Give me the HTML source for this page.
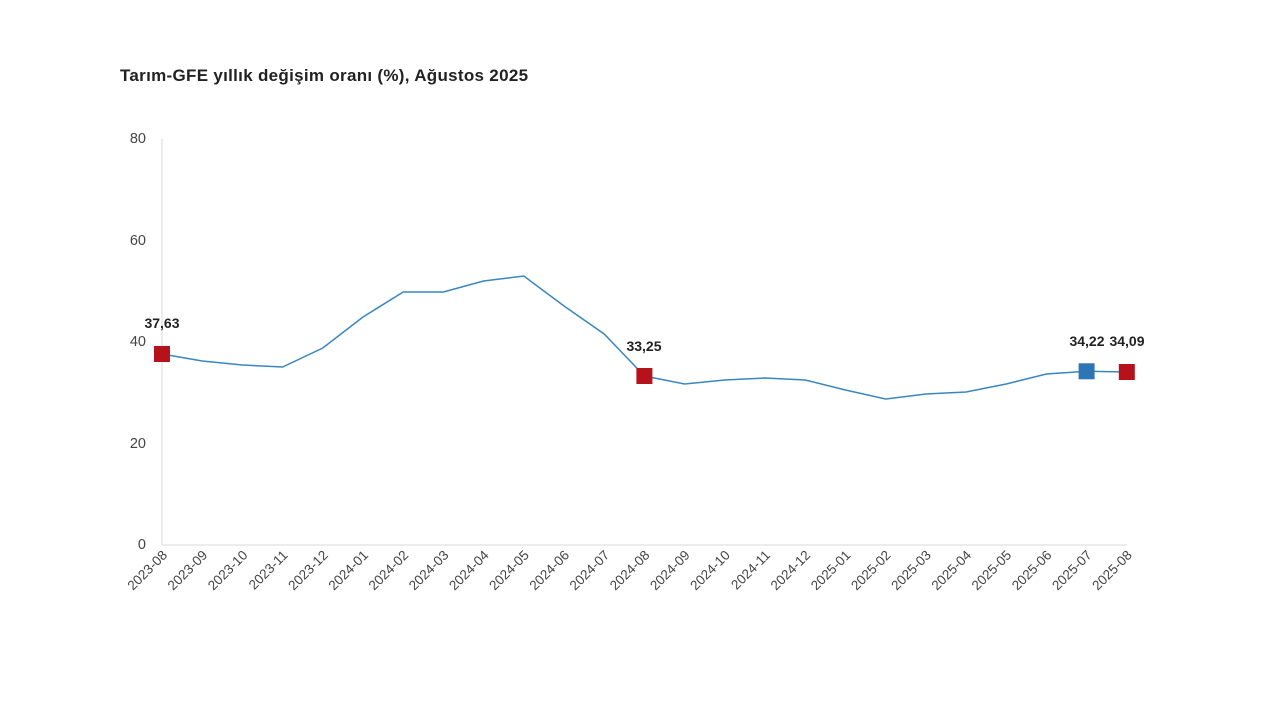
<!DOCTYPE html>
<html><head><meta charset="utf-8"><style>
html,body{margin:0;padding:0;background:#fff;}
svg{display:block;font-family:"Liberation Sans","DejaVu Sans",sans-serif;}
</style></head><body>
<svg width="1280" height="720" viewBox="0 0 1280 720" xmlns="http://www.w3.org/2000/svg">
<rect width="1280" height="720" fill="#fff"/>
<text x="120" y="81" font-size="17" font-weight="bold" fill="#222" letter-spacing="0.3">Tarım-GFE yıllık değişim oranı (%), Ağustos 2025</text>
<g font-size="14.5" fill="#444" text-anchor="end">
<text x="146" y="549">0</text>
<text x="146" y="448">20</text>
<text x="146" y="346">40</text>
<text x="146" y="245">60</text>
<text x="146" y="143">80</text>
</g>
<line x1="162" y1="139" x2="162" y2="545" stroke="#d9d9d9" stroke-width="1"/>
<line x1="162" y1="545" x2="1127" y2="545" stroke="#d9d9d9" stroke-width="1"/>
<polyline fill="none" stroke="#3a86c0" stroke-width="1.5" points="162,354 202.2,361 242.4,365 282.6,367 322.8,348 363,317 403.2,292 443.4,292 483.6,281 523.8,276 564,306 604.2,334 644.4,376 684.6,384 724.8,380 765,378 805.2,380 845.4,390 885.6,399 925.8,394 966,392 1006.2,384 1046.4,374 1086.6,371.3 1126.8,372"/>
<rect x="154" y="346" width="16" height="16" fill="#b5121b"/>
<rect x="636.4" y="368" width="16" height="16" fill="#b5121b"/>
<rect x="1078.6" y="363.3" width="16" height="16" fill="#2e75b6"/>
<rect x="1118.8" y="364" width="16" height="16" fill="#b5121b"/>
<g font-size="14" font-weight="bold" fill="#222" text-anchor="middle">
<text x="162" y="328">37,63</text>
<text x="644" y="351">33,25</text>
<text x="1087" y="346">34,22</text>
<text x="1127" y="346">34,09</text>
</g>
<g font-size="13.5" fill="#444" text-anchor="end">
<text transform="translate(168,556) rotate(-45)">2023-08</text>
<text transform="translate(208.2,556) rotate(-45)">2023-09</text>
<text transform="translate(248.4,556) rotate(-45)">2023-10</text>
<text transform="translate(288.6,556) rotate(-45)">2023-11</text>
<text transform="translate(328.8,556) rotate(-45)">2023-12</text>
<text transform="translate(369,556) rotate(-45)">2024-01</text>
<text transform="translate(409.2,556) rotate(-45)">2024-02</text>
<text transform="translate(449.4,556) rotate(-45)">2024-03</text>
<text transform="translate(489.6,556) rotate(-45)">2024-04</text>
<text transform="translate(529.8,556) rotate(-45)">2024-05</text>
<text transform="translate(570,556) rotate(-45)">2024-06</text>
<text transform="translate(610.2,556) rotate(-45)">2024-07</text>
<text transform="translate(650.4,556) rotate(-45)">2024-08</text>
<text transform="translate(690.6,556) rotate(-45)">2024-09</text>
<text transform="translate(730.8,556) rotate(-45)">2024-10</text>
<text transform="translate(771,556) rotate(-45)">2024-11</text>
<text transform="translate(811.2,556) rotate(-45)">2024-12</text>
<text transform="translate(851.4,556) rotate(-45)">2025-01</text>
<text transform="translate(891.6,556) rotate(-45)">2025-02</text>
<text transform="translate(931.8,556) rotate(-45)">2025-03</text>
<text transform="translate(972,556) rotate(-45)">2025-04</text>
<text transform="translate(1012.2,556) rotate(-45)">2025-05</text>
<text transform="translate(1052.4,556) rotate(-45)">2025-06</text>
<text transform="translate(1092.6,556) rotate(-45)">2025-07</text>
<text transform="translate(1132.8,556) rotate(-45)">2025-08</text>
</g>
</svg>
</body></html>
